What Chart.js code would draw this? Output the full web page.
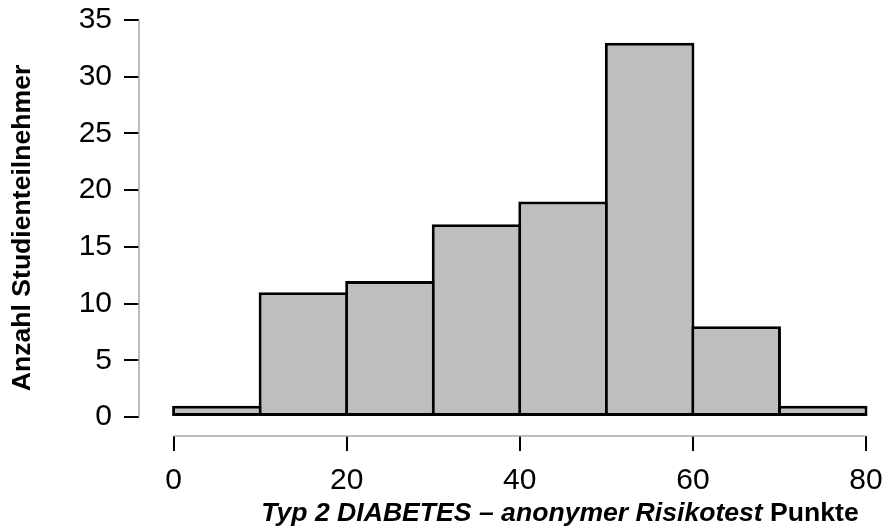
<!DOCTYPE html>
<html lang="de">
<head>
<meta charset="utf-8">
<title>Typ 2 DIABETES – Risikotest</title>
<script src="https://cdn.jsdelivr.net/npm/chart.js@4.4.1/dist/chart.umd.min.js"></script>
<style>
    html, body { margin: 0; padding: 0; background: #fff; }
    #wrap { position: relative; width: 883px; height: 528px; }
    #histChart { position: absolute; left: 0; top: 0; }
    #xTitle {
        position: absolute;
        left: 560px;
        top: 499px;
        transform: translateX(-50%);
        white-space: nowrap;
        font: bold 26.6px "Liberation Sans", Arial, sans-serif;
        line-height: 26px;
        color: #000;
    }
</style>
</head>
<body>
<div id="wrap">
    <canvas id="histChart" width="883" height="528"></canvas>
    <div id="xTitle"><i>Typ 2 DIABETES – anonymer Risikotest</i> Punkte</div>
</div>
<script>
// Histogram of risk test scores, 10-point bins
const binStarts = [0, 10, 20, 30, 40, 50, 60, 70];
const binCounts = [1, 11, 12, 17, 19, 33, 8, 1];
const binWidth = 10;
const xTicks = [0, 20, 40, 60, 80];
const yTicks = [0, 5, 10, 15, 20, 25, 30, 35];

const fontFamily = '"Liberation Sans", Arial, sans-serif';

// light grey axis lines that only run between the first and last tick
const axisLines = {
    id: 'axisLines',
    afterDraw(chart) {
        const { ctx, chartArea, scales } = chart;
        const x = scales.x;
        const y = scales.y;
        ctx.save();
        ctx.strokeStyle = '#a8a8a8';
        ctx.lineWidth = 1.5;
        ctx.beginPath();
        ctx.moveTo(chartArea.left, y.getPixelForValue(yTicks[0]));
        ctx.lineTo(chartArea.left, y.getPixelForValue(yTicks[yTicks.length - 1]));
        ctx.moveTo(x.getPixelForValue(xTicks[0]), chartArea.bottom);
        ctx.lineTo(x.getPixelForValue(xTicks[xTicks.length - 1]), chartArea.bottom);
        ctx.stroke();
        ctx.restore();
    }
};

function fixedTicks(values) {
    return function(scale) {
        scale.ticks = values.map(v => ({ value: v }));
    };
}

document.addEventListener('DOMContentLoaded', function() {
    const ctx = document.getElementById('histChart');

    new Chart(ctx, {
        type: 'bar',
        data: {
            datasets: [{
                data: binStarts.map((start, i) => ({ x: start + binWidth / 2, y: binCounts[i] })),
                backgroundColor: '#bebebe',
                borderColor: '#000000',
                borderWidth: 3,
                borderSkipped: false,
                // a bit wider than the bin so neighbouring outlines overlap
                barPercentage: 1.035,
                categoryPercentage: 1,
                clip: false
            }]
        },
        options: {
            responsive: false,
            animation: false,
            events: [],
            layout: {
                padding: { top: 20, right: 17, left: 0, bottom: 0 }
            },
            plugins: {
                legend: { display: false },
                tooltip: { enabled: false }
            },
            scales: {
                x: {
                    type: 'linear',
                    min: -4,
                    max: 80,
                    offset: false,
                    border: { display: false },
                    grid: {
                        offset: false,
                        drawOnChartArea: false,
                        color: '#000',
                        lineWidth: 2,
                        tickLength: 15
                    },
                    ticks: {
                        color: '#000',
                        font: { family: fontFamily, size: 30 },
                        padding: 12,
                        maxRotation: 0
                    },
                    afterBuildTicks: fixedTicks(xTicks),
                    afterFit: function(scale) {
                        scale.height = 92;
                        scale.paddingLeft = 0;
                        scale.paddingRight = 0;
                    }
                },
                y: {
                    min: -1.675,
                    max: 35,
                    border: { display: false },
                    grid: {
                        drawOnChartArea: false,
                        color: '#000',
                        lineWidth: 2,
                        tickLength: 15
                    },
                    ticks: {
                        color: '#000',
                        font: { family: fontFamily, size: 30 },
                        padding: 12
                    },
                    title: {
                        display: true,
                        text: 'Anzahl Studienteilnehmer',
                        color: '#000',
                        font: { family: fontFamily, size: 26.6, weight: 'bold' },
                        padding: { top: 7, bottom: 0 }
                    },
                    afterBuildTicks: fixedTicks(yTicks),
                    afterFit: function(scale) {
                        scale.width = 139;
                        scale.paddingTop = 0;
                        scale.paddingBottom = 0;
                    }
                }
            }
        },
        plugins: [axisLines]
    });
});
</script>
</body>
</html>
